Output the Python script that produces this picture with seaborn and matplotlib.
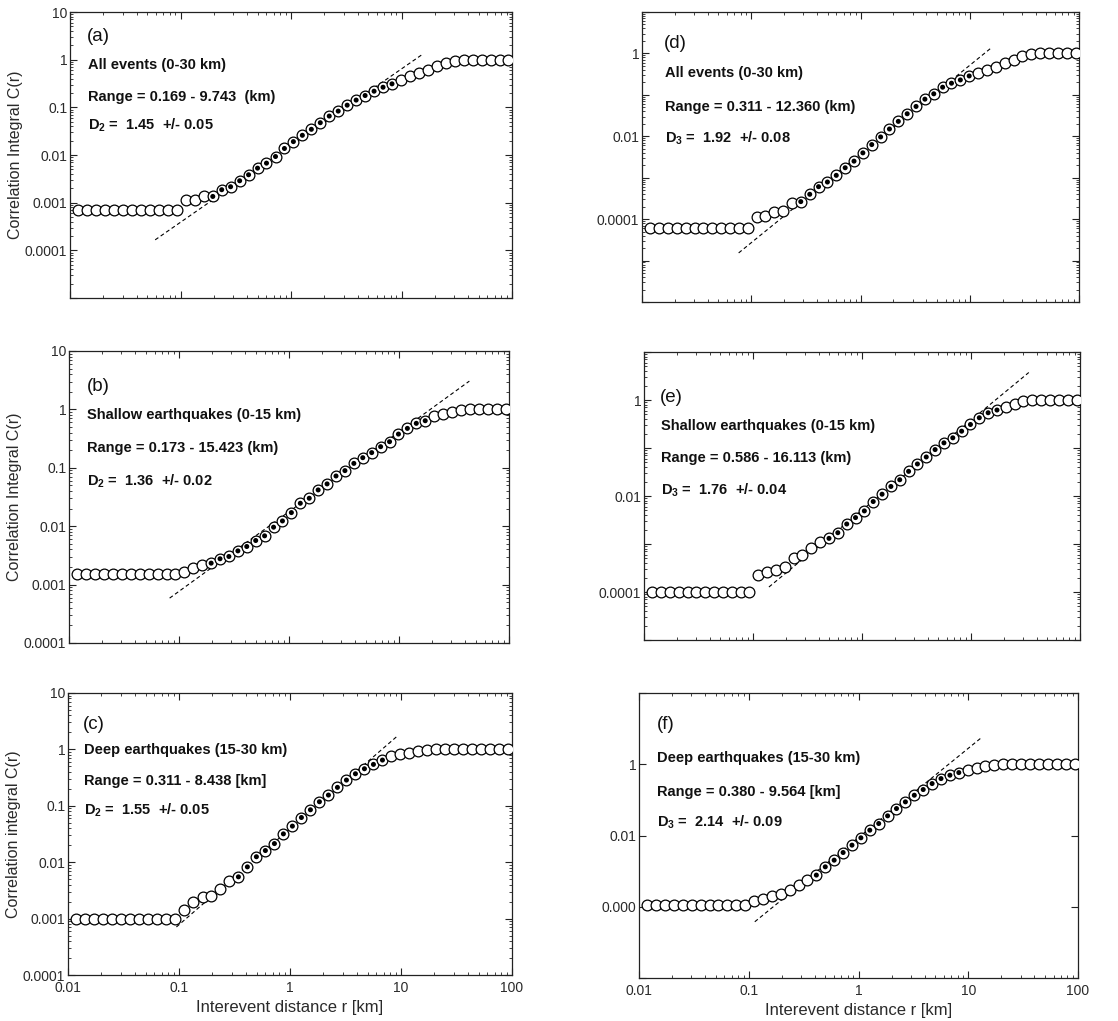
import numpy as np
import pandas as pd
import matplotlib
matplotlib.use("Agg")
import matplotlib.pyplot as plt
import seaborn as sns
from matplotlib.ticker import LogLocator, FixedLocator, FuncFormatter, NullFormatter, NullLocator

# ---------------- data ----------------
r_km = [0.0119, 0.0143, 0.0173, 0.0208, 0.0251, 0.0303, 0.0365, 0.0440, 0.0530, 0.0639,
        0.0770, 0.0928, 0.112, 0.135, 0.163, 0.196, 0.236, 0.284, 0.343, 0.413,
        0.498, 0.600, 0.724, 0.872, 1.051, 1.267, 1.528, 1.841, 2.219, 2.675,
        3.224, 3.886, 4.684, 5.646, 6.806, 8.203, 9.886, 11.92, 14.36, 17.31,
        20.87, 25.15, 30.31, 36.54, 44.04, 53.08, 63.98, 77.12, 92.95]

C_a = [7.05e-4] * 12 + [1.12e-3, 1.12e-3, 1.35e-3, 1.35e-3, 1.87e-3, 2.16e-3, 2.88e-3, 3.85e-3,
       5.30e-3, 6.75e-3, 9.29e-3, 0.0137, 0.0191, 0.0259, 0.0346, 0.0476, 0.0656, 0.0834,
       0.111, 0.142, 0.177, 0.218, 0.264, 0.311, 0.380, 0.447, 0.531, 0.596, 0.741, 0.851,
       0.955] + [1.0] * 6
C_b = [1.53e-3] * 12 + [1.64e-3, 1.96e-3, 2.18e-3, 2.33e-3, 2.77e-3, 3.03e-3, 3.78e-3, 4.49e-3,
       5.69e-3, 6.84e-3, 9.62e-3, 0.0123, 0.0171, 0.0247, 0.0301, 0.0418, 0.0530, 0.0724,
       0.0895, 0.119, 0.149, 0.182, 0.230, 0.280, 0.378, 0.473, 0.577, 0.640, 0.769, 0.822,
       0.912, 0.975] + [1.0] * 5
C_c = [9.9e-4] * 12 + [1.40e-3, 1.98e-3, 2.43e-3, 2.49e-3, 3.37e-3, 4.72e-3, 5.50e-3, 8.26e-3,
       0.0125, 0.0161, 0.0214, 0.0318, 0.0436, 0.0620, 0.0850, 0.118, 0.155, 0.212,
       0.286, 0.370, 0.454, 0.542, 0.647, 0.762, 0.838, 0.873, 0.933, 0.959] + [1.0] * 9
C_d = [6.08e-5] * 12 + [1.10e-4, 1.16e-4, 1.45e-4, 1.58e-4, 2.42e-4, 2.65e-4, 3.98e-4, 6.08e-4,
       7.87e-4, 1.14e-3, 1.74e-3, 2.51e-3, 3.98e-3, 6.31e-3, 9.64e-3, 0.0150, 0.0229, 0.0350,
       0.0525, 0.0787, 0.106, 0.153, 0.191, 0.229, 0.286, 0.344, 0.398, 0.479, 0.575, 0.692,
       0.863, 0.964] + [1.0] * 5
C_e = [1.0e-4] * 12 + [2.24e-4, 2.55e-4, 2.94e-4, 3.34e-4, 5.00e-4, 5.87e-4, 8.11e-4, 1.11e-3,
       1.31e-3, 1.72e-3, 2.61e-3, 3.55e-3, 4.89e-3, 7.67e-3, 0.0109, 0.0158, 0.0218, 0.0326,
       0.0465, 0.0650, 0.0927, 0.128, 0.163, 0.224, 0.309, 0.427, 0.543, 0.618, 0.724, 0.811,
       0.953] + [1.0] * 6
C_f = [1.1e-4] * 12 + [1.47e-4, 1.61e-4, 2.03e-4, 2.26e-4, 2.93e-4, 4.05e-4, 5.60e-4, 7.73e-4,
       1.32e-3, 2.03e-3, 3.33e-3, 5.36e-3, 8.61e-3, 0.0141, 0.0217, 0.0356, 0.0571, 0.0879,
       0.135, 0.195, 0.287, 0.396, 0.492, 0.583, 0.708, 0.807, 0.879, 0.938] + [1.0] * 9

# indices of the points used in the fit (drawn with a filled centre)
fit_idx_a = (15, 35)
fit_idx_b = (15, 39)
fit_idx_c = (18, 34)
fit_idx_d = (17, 36)
fit_idx_e = (20, 39)
fit_idx_f = (19, 35)

# dashed power-law fit lines (end points, r in km and C)
line_a_r, line_a_c = [0.059, 15.6], [1.66e-4, 1.31]
line_b_r, line_b_c = [0.0822, 43.6], [5.87e-4, 3.05]
line_c_r, line_c_c = [0.0948, 9.29], [7.11e-4, 1.73]
line_d_r, line_d_c = [0.0767, 15.5], [1.53e-5, 1.32]
line_e_r, line_e_c = [0.140, 33.9], [1.27e-4, 3.74]
line_f_r, line_f_c = [0.1135, 13.2], [3.79e-5, 5.6]

panel_tags = ["(a)", "(b)", "(c)", "(d)", "(e)", "(f)"]
panel_titles = ["All events (0-30 km)", "Shallow earthquakes (0-15 km)", "Deep earthquakes (15-30 km)",
                "All events (0-30 km)", "Shallow earthquakes (0-15 km)", "Deep earthquakes (15-30 km)"]
panel_ranges = ["Range = 0.169 - 9.743  (km)", "Range = 0.173 - 15.423 (km)", "Range = 0.311 - 8.438 [km]",
                "Range = 0.311 - 12.360 (km)", "Range = 0.586 - 16.113 (km)", "Range = 0.380 - 9.564 [km]"]
panel_dims = [r"D$_{\mathbf{2}}$ =  1.45  +/- 0.05", r"D$_{\mathbf{2}}$ =  1.36  +/- 0.02",
              r"D$_{\mathbf{2}}$ =  1.55  +/- 0.05", r"D$_{\mathbf{3}}$ =  1.92  +/- 0.08",
              r"D$_{\mathbf{3}}$ =  1.76  +/- 0.04", r"D$_{\mathbf{3}}$ =  2.14  +/- 0.09"]
ylabels = ["Correlation Integral C(r)", "Correlation Integral C(r)", "Correlation integral C(r)", "", "", ""]
xlabel_text = "Interevent distance r [km]"
xtick_labels = {0.01: "0.01", 0.1: "0.1", 1: "1", 10: "10", 100: "100"}
ytick_labels_left = {10: "10", 1: "1", 0.1: "0.1", 0.01: "0.01", 0.001: "0.001", 1e-4: "0.0001"}
ytick_labels_right = {1: "1", 0.01: "0.01", 1e-4: "0.0001"}
ytick_labels_f = {1: "1", 0.01: "0.01", 1e-4: "0.000"}

# ---------------- style ----------------
sns.set_theme(style="ticks")
plt.rcParams["font.family"] = ["Liberation Sans", "DejaVu Sans"]
plt.rcParams["mathtext.fontset"] = "custom"
plt.rcParams["mathtext.rm"] = "Liberation Sans"
plt.rcParams["mathtext.bf"] = "Liberation Sans:bold"
plt.rcParams["axes.edgecolor"] = "#222222"
plt.rcParams["axes.linewidth"] = 0.9

W, H = 1118, 1021
fig = plt.figure(figsize=(W / 100, H / 100), dpi=100)

# axes boxes in pixels: left, top, right, bottom
boxes = [(70, 12, 512, 298), (69, 351, 509, 643), (68, 693, 512, 975),
         (642, 12, 1079, 302), (644, 352, 1080, 640), (639, 693, 1078, 978)]
ylims = [(1e-5, 10), (1e-4, 10), (1e-4, 10), (1e-6, 10), (1e-5, 10), (1e-6, 100)]
text_pos = [  # x, tag y, line1 y, line2 y, line3 y (axes fractions)
    (0.038, 0.913, 0.815, 0.703, 0.605),
    (0.040, 0.878, 0.781, 0.669, 0.555),
    (0.034, 0.887, 0.798, 0.688, 0.585),
    (0.050, 0.892, 0.789, 0.673, 0.564),
    (0.037, 0.843, 0.743, 0.631, 0.521),
    (0.040, 0.888, 0.771, 0.654, 0.548),
]

C_all = [C_a, C_b, C_c, C_d, C_e, C_f]
fits = [fit_idx_a, fit_idx_b, fit_idx_c, fit_idx_d, fit_idx_e, fit_idx_f]
lines = [(line_a_r, line_a_c), (line_b_r, line_b_c), (line_c_r, line_c_c),
         (line_d_r, line_d_c), (line_e_r, line_e_c), (line_f_r, line_f_c)]

label_color = "#2a2a2a"

for i in range(6):
    l, t, rgt, b = boxes[i]
    ax = fig.add_axes([l / W, 1 - b / H, (rgt - l) / W, (b - t) / H])
    ax.set_xscale("log")
    ax.set_yscale("log")

    df = pd.DataFrame({"r": r_km, "C": C_all[i]})
    lo, hi = fits[i]
    df["fit"] = (df.index >= lo) & (df.index <= hi)

    lr, lc = lines[i]
    sns.lineplot(x=lr, y=lc, ax=ax, color="black", linewidth=0.8,
                 linestyle=(0, (3.5, 2.5)), zorder=2)
    sns.scatterplot(data=df, x="r", y="C", ax=ax, s=60, color="white",
                    edgecolor="black", linewidth=0.9, zorder=3, legend=False)
    sns.scatterplot(data=df[df["fit"]], x="r", y="C", ax=ax, s=13, color="black",
                    edgecolor="none", zorder=4, legend=False)

    ax.set_xlim(0.01, 100)
    ax.set_ylim(*ylims[i])

    # x ticks
    ax.xaxis.set_major_locator(LogLocator(base=10, numticks=10))
    ax.xaxis.set_minor_locator(LogLocator(base=10, subs=np.arange(2, 10), numticks=20))
    ax.xaxis.set_minor_formatter(NullFormatter())
    if i in (2, 5):
        ax.xaxis.set_major_formatter(FuncFormatter(lambda v, p: xtick_labels.get(round(v, 6), "")))
        ax.set_xlabel(xlabel_text, fontsize=12, color=label_color, labelpad=4)
    else:
        ax.xaxis.set_major_formatter(NullFormatter())
        ax.set_xlabel("")

    # y ticks
    if i < 3:
        ax.yaxis.set_major_locator(LogLocator(base=10, numticks=12))
        ax.yaxis.set_minor_locator(LogLocator(base=10, subs=np.arange(2, 10), numticks=30))
        labs = ytick_labels_left
    elif i < 5:
        ax.yaxis.set_major_locator(LogLocator(base=10, numticks=12))
        ax.yaxis.set_minor_locator(LogLocator(base=10, subs=np.arange(2, 10), numticks=30))
        labs = ytick_labels_right
    else:
        ax.yaxis.set_major_locator(FixedLocator([1e-6, 1e-4, 1e-2, 1, 100]))
        ax.yaxis.set_minor_locator(NullLocator())
        labs = ytick_labels_f
    ax.yaxis.set_minor_formatter(NullFormatter())
    ax.yaxis.set_major_formatter(FuncFormatter(
        lambda v, p, labs=labs: next((s for k, s in labs.items() if abs(np.log10(v) - np.log10(k)) < 1e-6), "")))
    ax.set_ylabel(ylabels[i], fontsize=11.5, color=label_color, labelpad=1)

    ax.tick_params(which="both", direction="in", top=True, right=True, bottom=True, left=True,
                   colors="#222222", labelcolor=label_color, labelsize=10)
    ax.tick_params(which="major", length=5, width=0.8)
    ax.tick_params(which="minor", length=2.5, width=0.6)
    ax.tick_params(axis="y", which="major", pad=2)
    ax.tick_params(axis="x", which="major", pad=4)
    for sp in ax.spines.values():
        sp.set_visible(True)
        sp.set_color("#222222")

    x0, ytag, y1, y2, y3 = text_pos[i]
    ax.text(x0, ytag, panel_tags[i], transform=ax.transAxes, fontsize=13.5, va="center", ha="left",
            color="#111111")
    ax.text(x0 + 0.002, y1, panel_titles[i], transform=ax.transAxes, fontsize=10.5, fontweight="bold",
            va="center", ha="left", color="#111111")
    ax.text(x0 + 0.002, y2, panel_ranges[i], transform=ax.transAxes, fontsize=10.5, fontweight="bold",
            va="center", ha="left", color="#111111")
    ax.text(x0 + 0.002, y3, panel_dims[i], transform=ax.transAxes, fontsize=10.5, fontweight="bold",
            va="center", ha="left", color="#111111")

fig.savefig("out.png", dpi=100, facecolor="white")
